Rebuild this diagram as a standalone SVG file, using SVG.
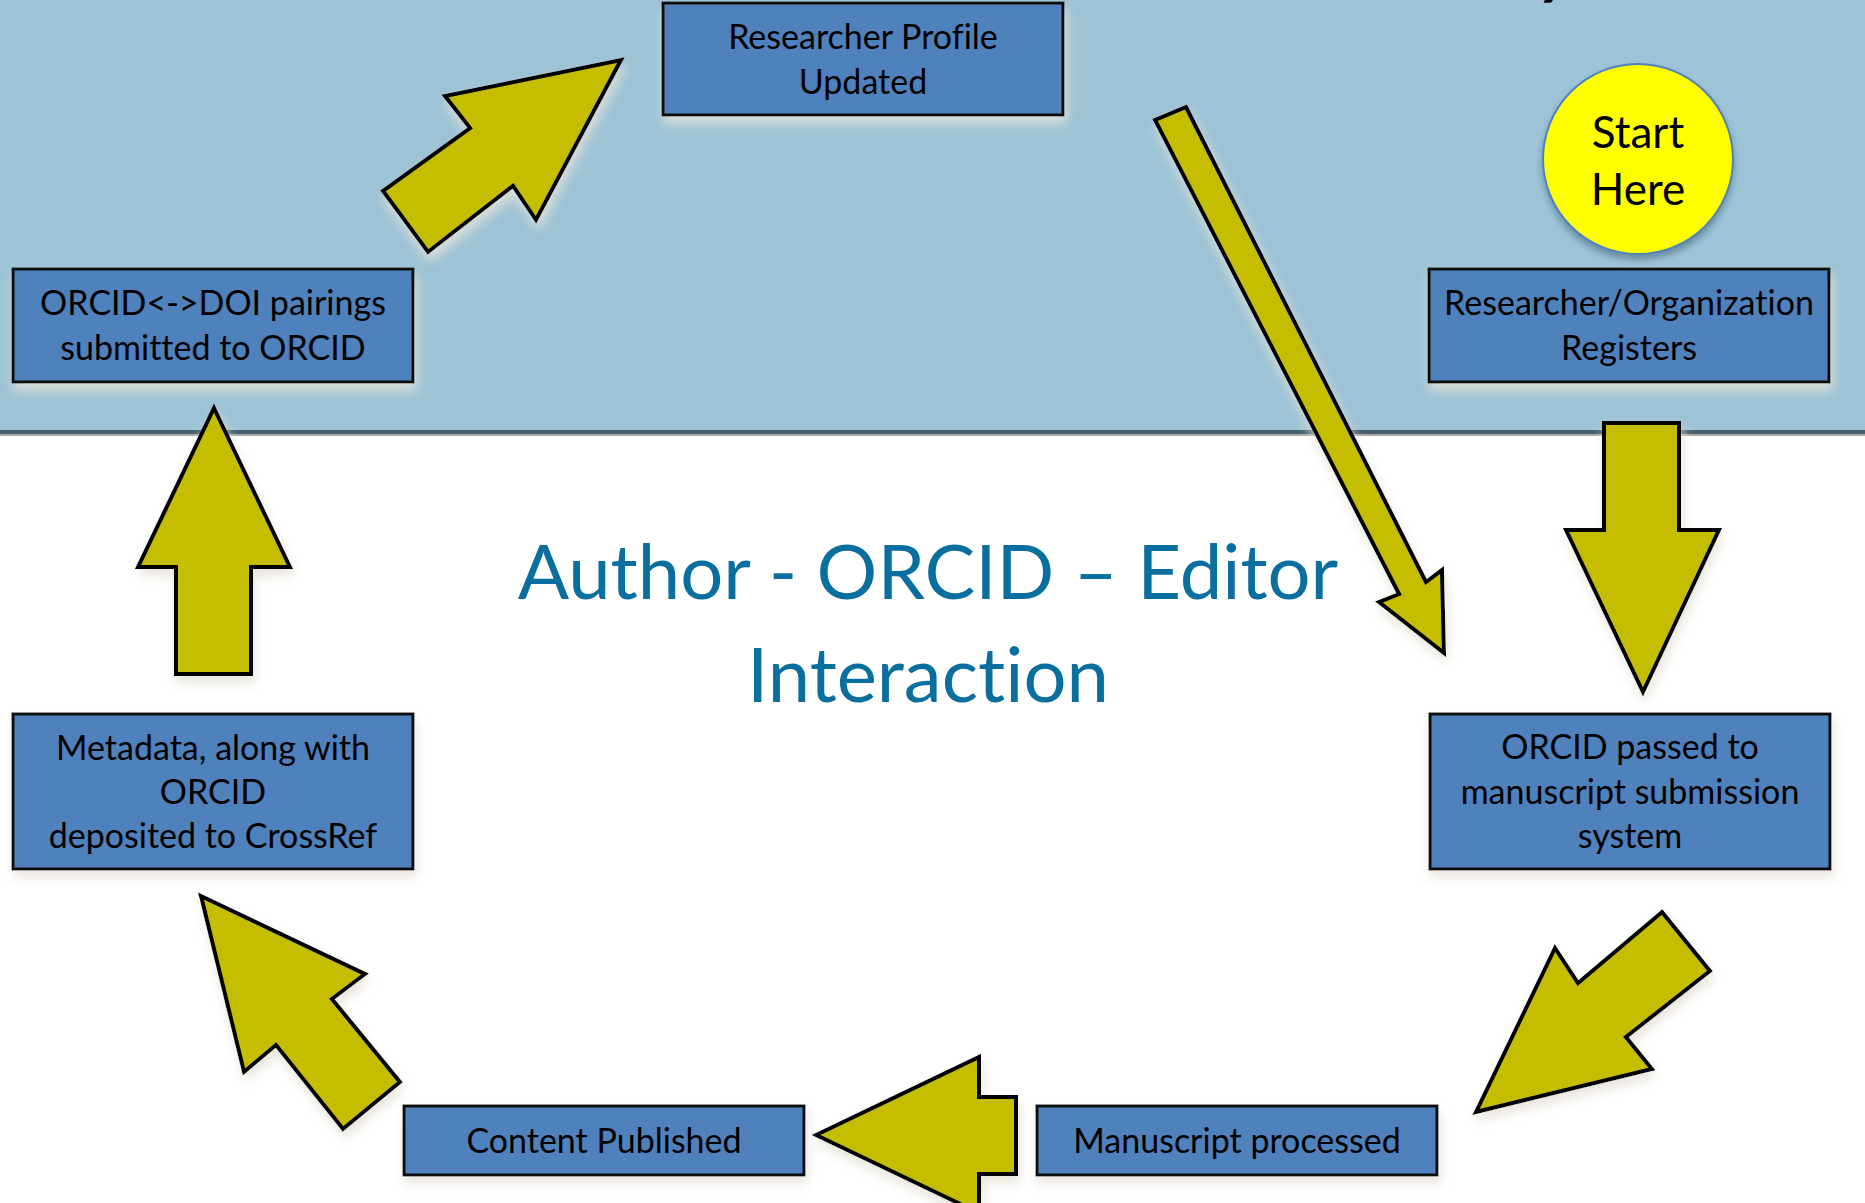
<svg xmlns="http://www.w3.org/2000/svg" width="1865" height="1203" viewBox="0 0 1865 1203">
<defs>
<style>
text{font-variant-ligatures:none}
.box{fill:#4f81bd;stroke:#111;stroke-width:3}
.bt{font-family:Lato,"Open Sans",sans-serif;font-size:34px;fill:#000;text-anchor:middle}
.arr{fill:#c5be00;stroke:#000;stroke-width:4;stroke-linejoin:miter}
.title{font-family:Lato,"Open Sans",sans-serif;font-size:76px;fill:#0a6e9e;text-anchor:middle}
</style>
<filter id="sh" x="-20%" y="-30%" width="140%" height="170%">
<feGaussianBlur in="SourceAlpha" stdDeviation="6"/>
<feOffset dx="2" dy="7" result="b"/>
<feFlood flood-color="#e6e2d8" flood-opacity="0.9"/>
<feComposite in2="b" operator="in"/>
<feMerge><feMergeNode/><feMergeNode in="SourceGraphic"/></feMerge>
</filter>
<filter id="csh" x="-20%" y="-20%" width="140%" height="150%">
<feGaussianBlur in="SourceAlpha" stdDeviation="3"/>
<feOffset dx="0" dy="5" result="b"/>
<feFlood flood-color="#2a4a5a" flood-opacity="0.45"/>
<feComposite in2="b" operator="in"/>
<feMerge><feMergeNode/><feMergeNode in="SourceGraphic"/></feMerge>
</filter>
</defs>
<rect x="0" y="0" width="1865" height="1203" fill="#ffffff"/>
<rect x="0" y="0" width="1865" height="431" fill="#9dc3d6"/>
<rect x="0" y="430" width="1865" height="4" fill="#455f6c"/>
<rect x="0" y="434" width="1865" height="2" fill="#a9a9a9"/>
<text x="1536" y="-9" font-family="Lato,sans-serif" font-weight="bold" font-size="66" fill="#000">y</text>

<g id="connectors">
<polygon class="arr" filter="url(#sh)" points="214,408 290,567 251,567 251,674 176,674 176,567 138,567"/>
<polygon class="arr" filter="url(#sh)" points="621,60 536,220 513,186 428,252 383,191 470,128 445,96"/>
<polygon class="arr" filter="url(#sh)" points="1186,107 1426,582 1442,570 1444,653 1379,602 1399,594 1155,120"/>
<polygon class="arr" filter="url(#sh)" points="1604,423 1679,423 1679,530 1719,530 1643,692 1566,530 1604,530"/>
<polygon class="arr" filter="url(#sh)" points="1662,912 1710,971 1626,1037 1652,1069 1476,1112 1555,948 1578,983"/>
<polygon class="arr" filter="url(#sh)" points="816,1135 979,1057 979,1097 1016,1097 1016,1174 979,1174 979,1213"/>
<polygon class="arr" filter="url(#sh)" points="201,896 365,974 332,999 400,1082 343,1129 276,1045 244,1072"/>
</g>

<g id="title">
<text class="title" x="928" y="599">Author - ORCID – Editor</text>
<text class="title" x="928" y="702">Interaction</text>
</g>

<g id="start">
<circle cx="1638" cy="159" r="95" fill="#ffff00" stroke="#4f81bd" stroke-width="2" filter="url(#csh)"/>
<text x="1638" y="148" font-family="Lato,sans-serif" font-size="44" text-anchor="middle" fill="#000">Start</text>
<text x="1638" y="205" font-family="Lato,sans-serif" font-size="44" text-anchor="middle" fill="#000">Here</text>
</g>

<g id="n-profile">
<rect class="box" filter="url(#sh)" x="663" y="3" width="400" height="112"/>
<text class="bt" x="863" y="49">Researcher Profile</text>
<text class="bt" x="863" y="94">Updated</text>
</g>

<g id="n-registers">
<rect class="box" filter="url(#sh)" x="1429" y="269" width="400" height="113"/>
<text class="bt" x="1629" y="315">Researcher/Organization</text>
<text class="bt" x="1629" y="360">Registers</text>
</g>

<g id="n-pairings">
<rect class="box" filter="url(#sh)" x="13" y="269" width="400" height="113"/>
<text class="bt" x="213" y="315">ORCID&lt;-&gt;DOI pairings</text>
<text class="bt" x="213" y="360">submitted to ORCID</text>
</g>

<g id="n-passed">
<rect class="box" filter="url(#sh)" x="1430" y="714" width="400" height="155"/>
<text class="bt" x="1630" y="759">ORCID passed to</text>
<text class="bt" x="1630" y="804">manuscript submission</text>
<text class="bt" x="1630" y="848">system</text>
</g>

<g id="n-metadata">
<rect class="box" filter="url(#sh)" x="13" y="714" width="400" height="155"/>
<text class="bt" x="213" y="760">Metadata, along with</text>
<text class="bt" x="213" y="804">ORCID</text>
<text class="bt" x="213" y="848">deposited to CrossRef</text>
</g>

<g id="n-published">
<rect class="box" filter="url(#sh)" x="404" y="1106" width="400" height="69"/>
<text class="bt" x="604" y="1153">Content Published</text>
</g>

<g id="n-processed">
<rect class="box" filter="url(#sh)" x="1037" y="1106" width="400" height="69"/>
<text class="bt" x="1237" y="1153">Manuscript processed</text>
</g>
</svg>
